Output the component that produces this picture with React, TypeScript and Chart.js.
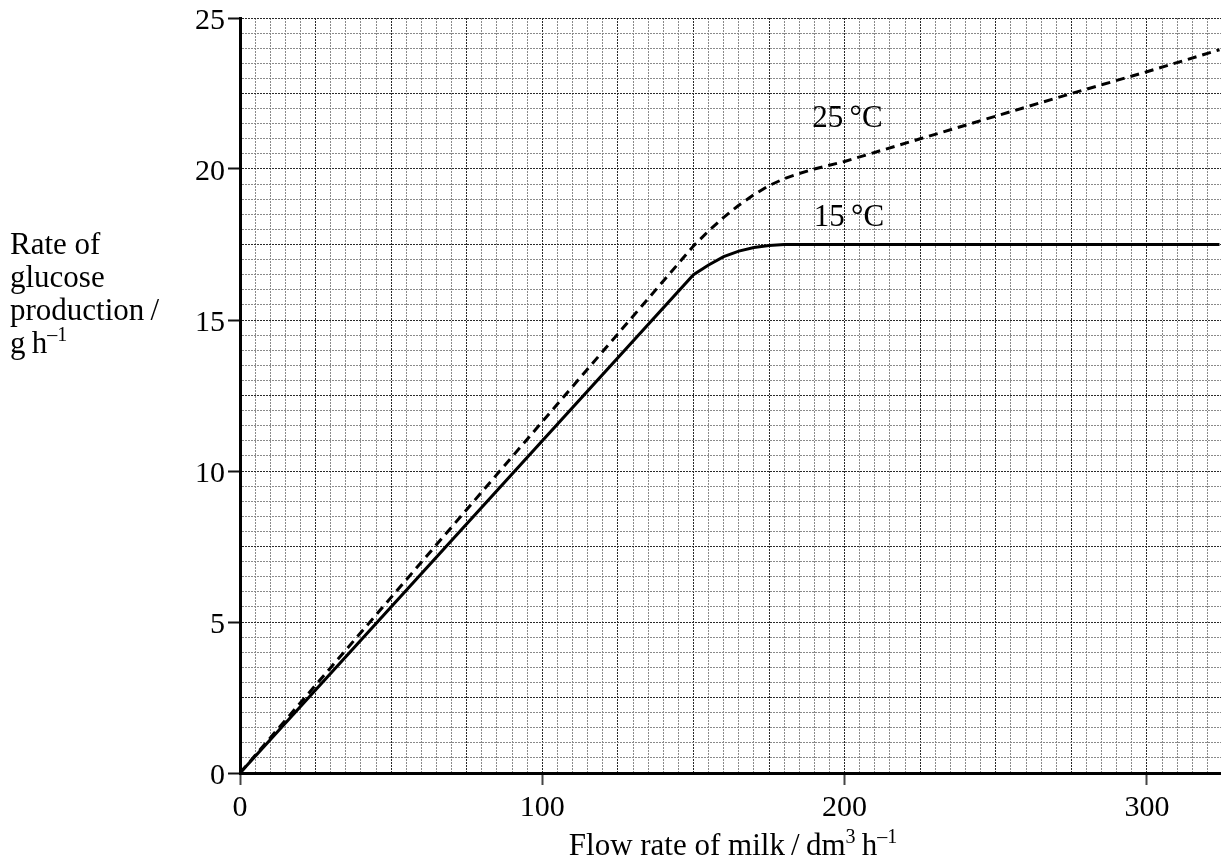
import React, { useEffect, useRef } from "react";
import { Chart, registerables } from "chart.js";

Chart.register(...registerables);

// ---- data ----
const flow15 = [0, 150, 155, 160, 165, 170, 175, 180, 324];
const glucose15 = [0, 16.5, 16.82, 17.1, 17.28, 17.4, 17.47, 17.5, 17.5];

const flow25 = [0, 150, 155, 160, 165, 170, 175, 180, 185, 190, 200, 225, 250, 275, 300, 324];
const glucose25 = [0, 17.45, 17.95, 18.4, 18.8, 19.15, 19.45, 19.68, 19.85, 20.0, 20.25, 21.0, 21.75, 22.5, 23.22, 23.95];

const xLabeledTicks = [0, 100, 200, 300];
const yLabeledTicks = [0, 5, 10, 15, 20, 25];
const seriesLabels = ["15\u2009°C", "25\u2009°C"];
const yTitleLines = ["Rate of", "glucose", "production\u2009/"];
const FONT = '"Liberation Serif", "Times New Roman", serif';

type Seg = { t: string; sup?: boolean };

function drawRich(ctx: CanvasRenderingContext2D, segs: Seg[], x: number, y: number, size: number, align: "left" | "center") {
  let total = 0;
  const widths: number[] = [];
  for (const s of segs) {
    ctx.font = `${s.sup ? Math.round(size * 0.66) : size}px ${FONT}`;
    const w = ctx.measureText(s.t).width;
    widths.push(w);
    total += w;
  }
  let cx = align === "center" ? x - total / 2 : x;
  ctx.textAlign = "left";
  ctx.textBaseline = "alphabetic";
  segs.forEach((s, i) => {
    ctx.font = `${s.sup ? Math.round(size * 0.66) : size}px ${FONT}`;
    ctx.fillText(s.t, cx, s.sup ? y - size * 0.38 : y);
    cx += widths[i];
  });
}

const textPlugin = {
  id: "textPlugin",
  afterDraw(chart: any) {
    const ctx: CanvasRenderingContext2D = chart.ctx;
    const xs = chart.scales.x;
    const ys = chart.scales.y;
    ctx.save();
    ctx.fillStyle = "#000";
    const size = 31;
    // y axis title
    yTitleLines.forEach((l, i) => drawRich(ctx, [{ t: l }], 10, 254 + i * 33, size, "left"));
    drawRich(ctx, [{ t: "g\u2009h" }, { t: "\u20131", sup: true }], 10, 254 + 3 * 33, size, "left");
    // x axis title
    drawRich(
      ctx,
      [{ t: "Flow rate of milk\u2009/\u2009dm" }, { t: "3", sup: true }, { t: "\u2009h" }, { t: "\u20131", sup: true }],
      733,
      855,
      size,
      "center"
    );
    // series labels
    drawRich(ctx, [{ t: seriesLabels[1] }], xs.getPixelForValue(189.3), ys.getPixelForValue(21.4), 31, "left");
    drawRich(ctx, [{ t: seriesLabels[0] }], xs.getPixelForValue(189.8), ys.getPixelForValue(18.1), 31, "left");
    ctx.restore();
  },
};

export default function App() {
  const ref = useRef<HTMLCanvasElement>(null);
  useEffect(() => {
    if (!ref.current) return;
    const chart = new Chart(ref.current, {
      type: "line",
      data: {
        datasets: [
          {
            label: seriesLabels[0],
            data: flow15.map((x, i) => ({ x, y: glucose15[i] })),
            borderColor: "#000",
            borderWidth: 3,
            pointRadius: 0,
            tension: 0,
          },
          {
            label: seriesLabels[1],
            data: flow25.map((x, i) => ({ x, y: glucose25[i] })),
            borderColor: "#000",
            borderWidth: 3,
            borderDash: [9, 6],
            pointRadius: 0,
            tension: 0,
          },
        ],
      },
      options: {
        animation: false,
        responsive: false,
        devicePixelRatio: 1,
        layout: { padding: { top: 17, right: 0, left: 0, bottom: 0 } },
        plugins: { legend: { display: false }, tooltip: { enabled: false } },
        scales: {
          x: {
            type: "linear",
            min: 0,
            max: 324.5,
            afterFit: (s: any) => {
              s.height = 91;
            },
            ticks: {
              stepSize: 5,
              includeBounds: false,
              autoSkip: false,
              maxRotation: 0,
              padding: 8,
              color: "#000",
              font: { family: FONT, size: 30, lineHeight: 1 },
              callback: (v: any) => (xLabeledTicks.includes(Number(v)) ? String(v) : ""),
            },
            grid: {
              color: (c: any) => (c.tick && c.tick.value % 25 === 0 ? "#2a2a2a" : "#8a8a8a"),
              lineWidth: 1,
              tickLength: 12,
              tickWidth: 2,
              tickColor: (c: any) => (c.tick && xLabeledTicks.includes(c.tick.value) ? "#444" : "rgba(0,0,0,0)"),
            },
            border: { display: true, color: "#000", width: 3, dash: [2, 1] },
          },
          y: {
            type: "linear",
            min: 0,
            max: 25,
            afterFit: (s: any) => {
              s.width = 240;
            },
            ticks: {
              stepSize: 0.5,
              autoSkip: false,
              padding: 3,
              labelOffset: 3,
              color: "#000",
              font: { family: FONT, size: 30, lineHeight: 1 },
              callback: (v: any) => (yLabeledTicks.includes(Number(v)) ? String(v) : ""),
            },
            grid: {
              color: (c: any) => (c.tick && Math.abs(c.tick.value % 2.5) < 1e-6 ? "#2a2a2a" : "#8a8a8a"),
              lineWidth: 1,
              tickLength: 12,
              tickWidth: 2,
              tickColor: (c: any) => (c.tick && yLabeledTicks.includes(c.tick.value) ? "#111" : "rgba(0,0,0,0)"),
            },
            border: { display: true, color: "#000", width: 3, dash: [2, 1] },
          },
        },
      },
      plugins: [textPlugin],
    });
    return () => chart.destroy();
  }, []);
  return (
    <div style={{ position: "fixed", left: 0, top: 0, width: 1221, height: 864, background: "#fff" }}>
      <canvas ref={ref} width={1221} height={864} style={{ display: "block" }} />
    </div>
  );
}
